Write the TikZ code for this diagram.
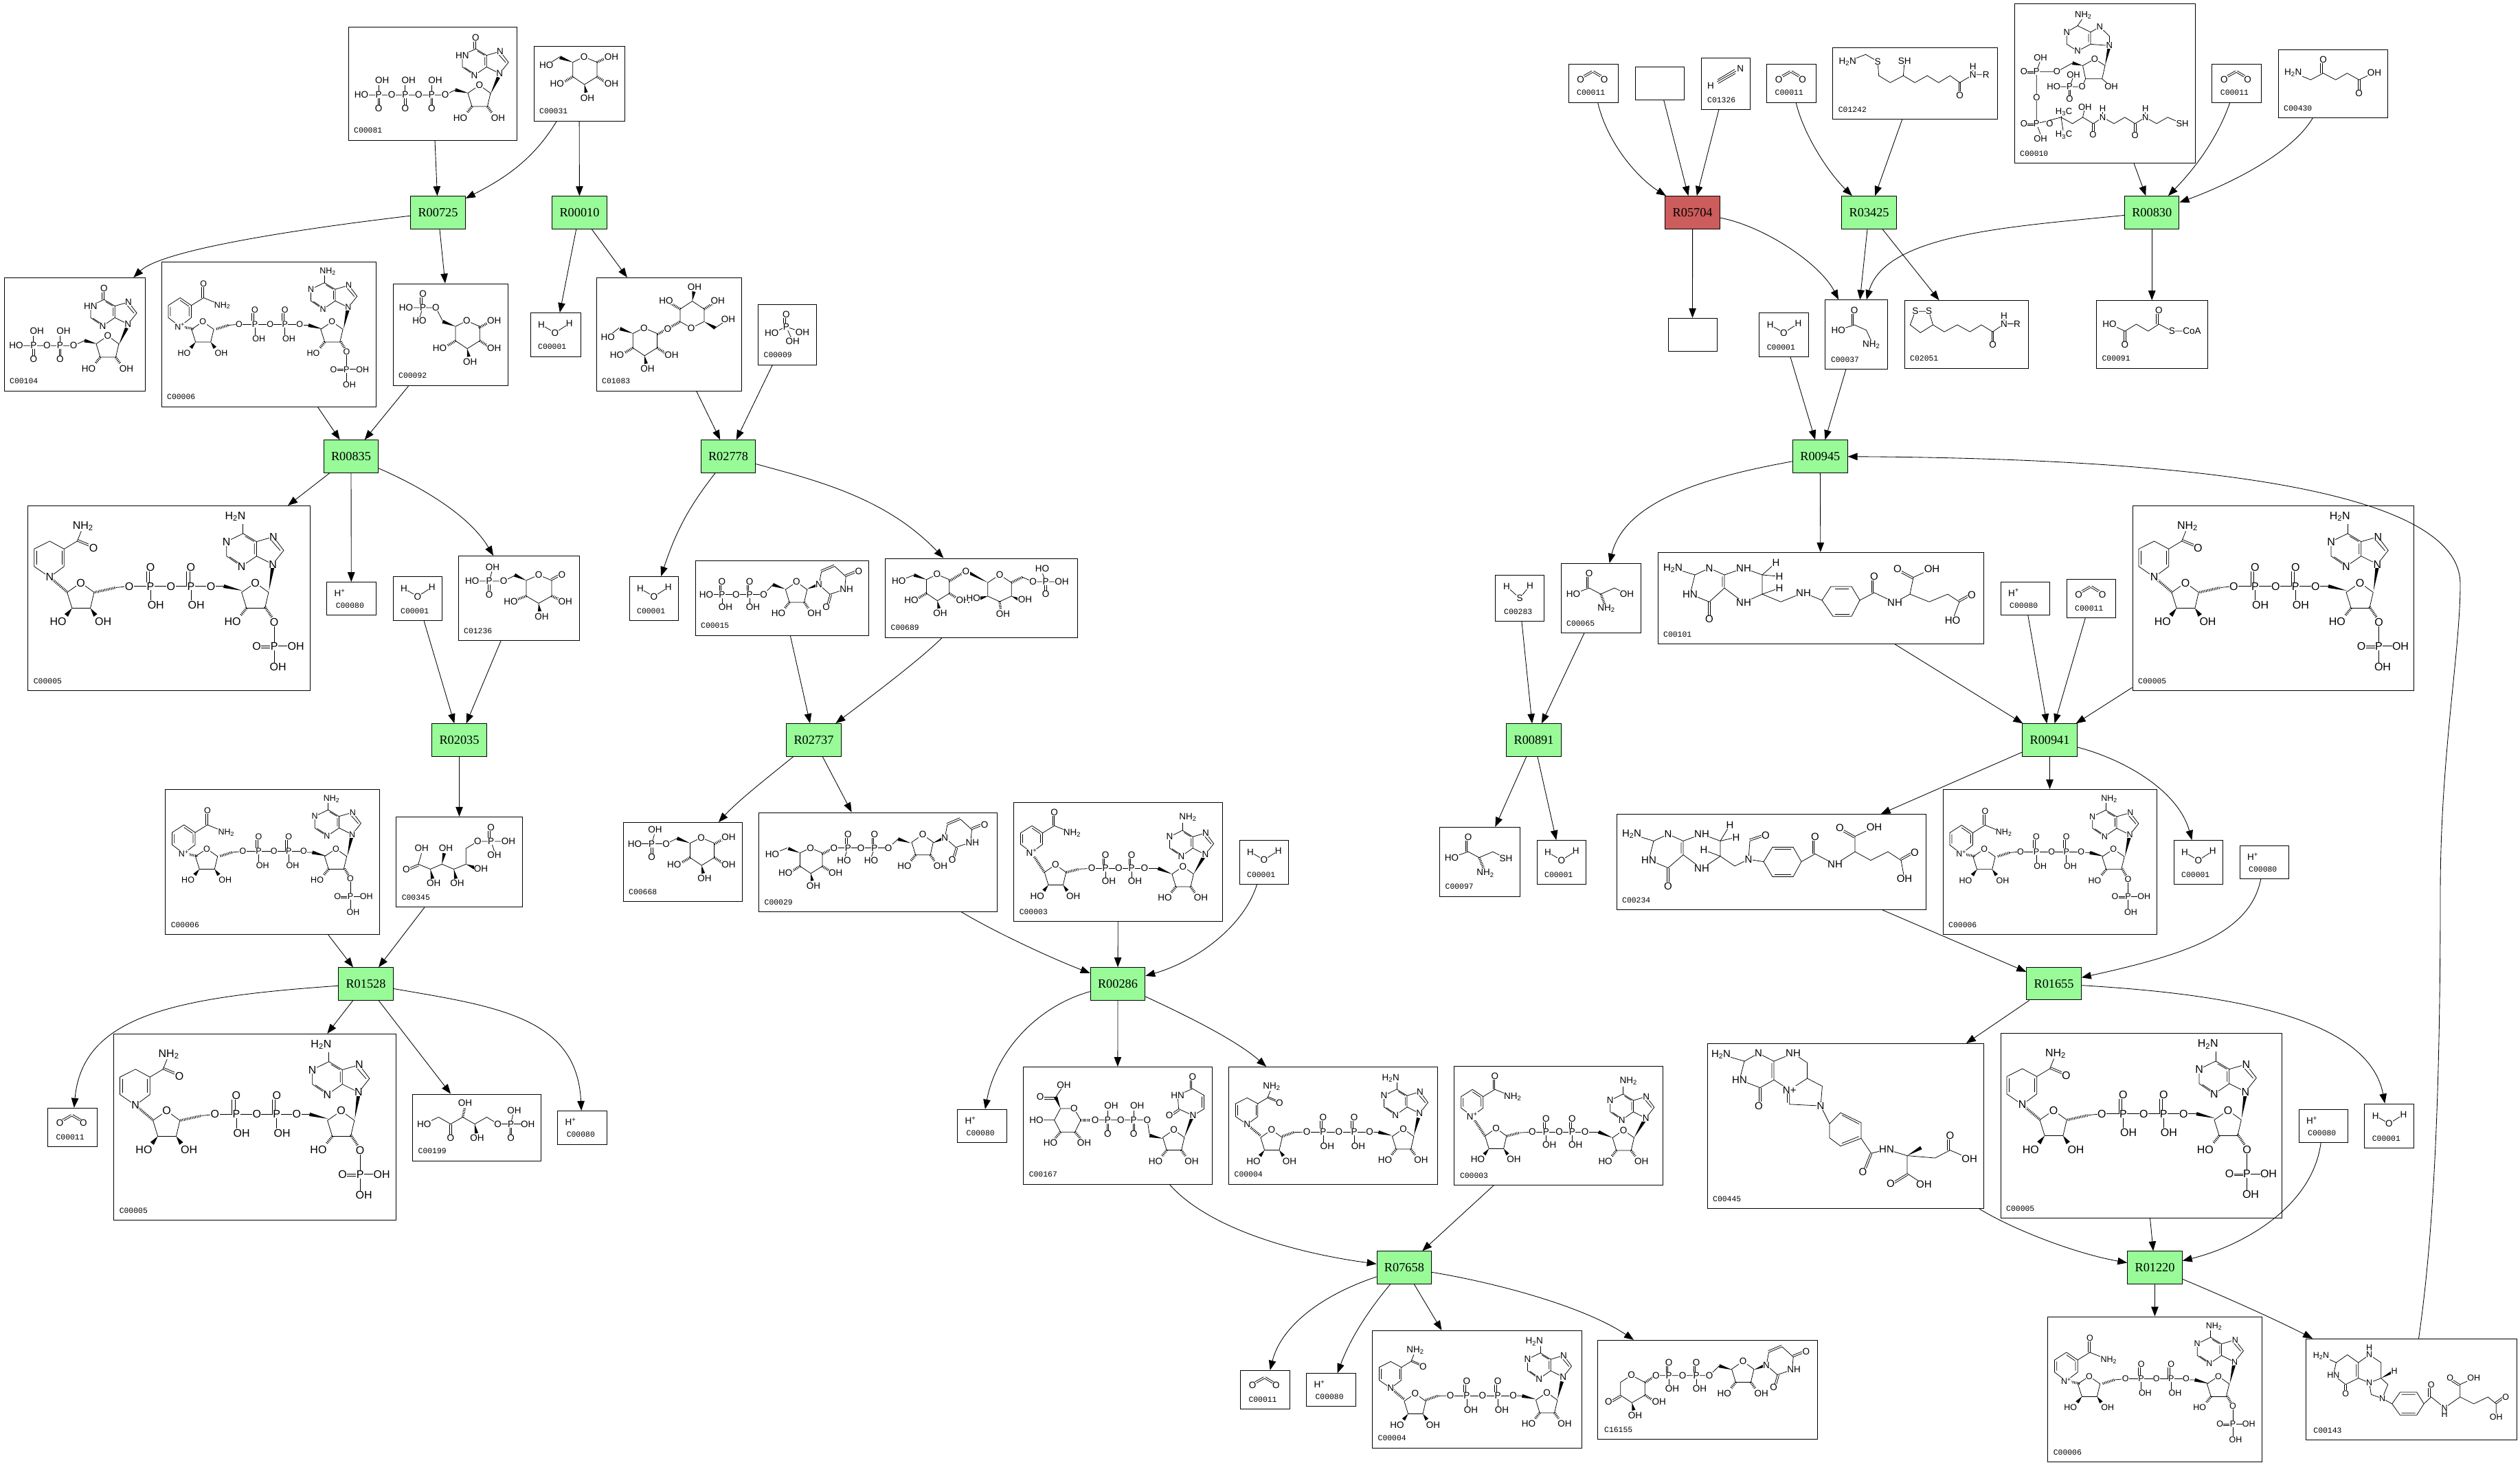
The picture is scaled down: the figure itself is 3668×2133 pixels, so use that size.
\documentclass[tikz,border=0pt]{standalone}
\usepackage{fontspec}
\setmainfont{Liberation Serif}
\newfontfamily\atomfont{Liberation Sans}
\newfontfamily\labelfont{Liberation Mono}
\usetikzlibrary{arrows.meta,calc}
\definecolor{rxngreen}{HTML}{98FB98}
\definecolor{rxnred}{HTML}{CD5C5C}
\def\asz{13.5}
\newcounter{atomno}
\tikzset{
  rxn/.style={draw,line width=1pt,fill=rxngreen,minimum width=79.5pt,minimum height=47.5pt,inner sep=0pt,font=\fontsize{18.3}{20}\selectfont},
  cpdbox/.style={draw,line width=1pt,inner sep=0pt},
  cpdlabel/.style={anchor=west,inner sep=0pt,font=\labelfont\fontsize{11.4}{12}\selectfont},
  conn/.style={line width=.85pt,-{Triangle[length=14pt,width=10.5pt]}},
  bond/.style={line width=.75pt},
  hash/.style={line width=3.6pt,dash pattern=on .9pt off 1.5pt},
  atom/.style={fill=white,inner sep=.4pt,font=\atomfont\fontsize{\asz}{\asz}\selectfont}
}
% atoms and bonds
\newcommand{\atm}[3]{\stepcounter{atomno}\node[atom] (a\theatomno) at (#1,#2) {#3};}
\newcommand{\atms}[1]{\foreach \atx/\aty/\att in {#1}{\atm{\atx}{\aty}{\att}}}
\newcommand{\wdg}[4]{\fill ($(#1,#2)$) -- ($(#3,#4)!2.6pt!90:(#1,#2)$) -- ($(#3,#4)!2.6pt!-90:(#1,#2)$) -- cycle;}
\newcommand{\hsh}[4]{\draw[hash] (#1,#2) -- (#3,#4);}
\newcommand{\dbl}[4]{\draw[bond] (#1,#2) -- (#3,#4); \draw[bond] ($(#1,#2)!2.6pt!90:(#3,#4)$) -- ($(#3,#4)!2.6pt!-90:(#1,#2)$);}
\newcommand{\frag}[5]{\begin{scope}[shift={(#1,#2)},xscale=#3,yscale=#4] #5 \end{scope}}
% a compound box with its label and its structure
\newcommand{\cpd}[8][8]{%
  \node[cpdbox,minimum width={(#5-#3)*1pt},minimum height={(#6-#4)*1pt}] (#2) at ({(#3+#5)/2},{(#4+#6)/2}) {};
  \node[cpdlabel] (#2t) at (#3+#1,#6-14) {#7};
  \begin{scope}[shift={(#3,#4)}] #8 \end{scope}}
% pieces of structures
\newcommand{\ribring}{\draw[bond] (0,0)--(15.4,11.1)--(11.1,29.6)--(-10.3,29.6)--(-16,11.1)--cycle; \atm{0}{0}{O}}
\newcommand{\ribup}{\ribring \wdg{-10.3}{29.6}{-17}{38} \wdg{11.1}{29.6}{17}{38} \atms{-26.5/45.5/HO,26/45.5/OH}}
\newcommand{\ribdn}{\ribring \hsh{-10.3}{29.6}{-17}{38} \hsh{11.1}{29.6}{17}{38} \atms{-26.5/45.5/HO,26/45.5/OH}}
\newcommand{\ribdnP}{\ribring \hsh{-10.3}{29.6}{-17}{38} \atm{-26.5}{45.5}{HO}}
\newcommand{\Pdn}[2]{\draw[bond] (#1,#2)--(#1,#2+14); \dbl{#1-1.3}{#2}{#1-1.3}{#2-19} \atm{#1}{#2}{P} \atm{#1}{#2-19}{O} \atm{#1+5}{#2+18.7}{OH}}
\newcommand{\Pup}[2]{\draw[bond] (#1,#2)--(#1,#2-14); \dbl{#1-1.3}{#2}{#1-1.3}{#2+20} \atm{#1}{#2}{P} \atm{#1}{#2+20}{O} \atm{#1+5}{#2-21}{OH}}
\newcommand{\ppchain}{\draw[bond] (0,0)--(76.8,0); \Pdn{20}{0} \Pdn{58}{0} \atms{0/0/O,39.3/0/O,76.8/0/O}}
\newcommand{\purine}[4]{\draw[bond] (0,0)--(-18.2,-9.3)--(-18.2,-25.9)--(-33.3,-35.2)--(-51.8,-25.9)--(-51.8,-9.3)--(-35,2.5)--(-18.2,-9.3);
  \draw[bond] (-18.2,-25.9)--(0.7,-31.5)--(12.2,-15.9)--(0,0);
  \draw[bond] (-33.3,-35.2)--(-33.3,-46);
  \draw[bond] (-20.6,-11.5)--(-20.6,-23.7) (-3,-29)--(8.5,-15.5) (-31,-32)--(-21,-26) (-48.5,-8.5)--(-36,0);
  \atms{0/0/N,0.7/-31.5/N,-35/2.5/N,-51.8/-25.9/#4,#1/#2/#3}}
\newcommand{\inosine}{\purine{-33.3}{-51.5}{O}{HN} \draw[bond] (-35.8,-35.2)--(-35.8,-45);}
\newcommand{\nicoox}{\draw[bond] (0,0)--(16,-12)--(16,-28.6)--(0.5,-39)--(-16,-28.6)--(-16,-12)--cycle;
  \draw[bond] (13,-14)--(13,-26.6) (-13,-14)--(-13,-26.6) (0.5,-35.5)--(12.5,-27.5);
  \draw[bond] (16,-28.6)--(33,-39)--(59,-28.6); \dbl{33}{-39}{33}{-58}
  \atms{0/0/N\textsuperscript{+},33/-58/O,59/-28.6/NH\textsubscript{2}}}
\newcommand{\nicoH}{\draw[bond] (0,0)--(21,-15.6)--(21,-41)--(0,-52.4)--(-22.6,-41)--(-22.6,-15.6)--cycle;
  \draw[bond] (17.6,-18)--(17.6,-38) (-19.2,-18)--(-19.2,-38);
  \draw[bond] (21,-41)--(40,-52.4)--(46,-67); \dbl{40}{-52.4}{63.8}{-42.3}
  \atms{0/0/N,48.4/-74.4/NH\textsubscript{2},63.8/-42.3/O}}
\newcommand{\ptail}{\draw[bond] (0,0)--(0,60); \draw[bond] (0,34.9)--(31.5,34.9); \dbl{0}{34.9}{-25.5}{34.9}
  \atms{0/0/O,0/34.9/P,-25.5/34.9/O,31.5/34.9/OH,5.5/65.3/OH}}
\newcommand{\uracil}{\draw[bond] (0,0)--(3.5,-18.5); \dbl{3.5}{-18.5}{23}{-26.7} \draw[bond] (23,-26.7)--(39.2,-11.9)--(37.5,6.7)--(16,14)--(0,0);
  \dbl{39.2}{-11.9}{57.8}{-19.3} \dbl{16}{14}{10.7}{32.5} \atms{0/0/N,40/6.7/NH,57.8/-19.3/O,10.7/32.5/O}}
\newcommand{\pyr}{\draw[bond] (0,0)--(19,8)--(19,29)--(0.7,40.4)--(-16.2,29)--(-16.2,8)--cycle;
  \hsh{19}{29}{30}{36} \hsh{-16.2}{29}{-28}{36} \wdg{0.7}{40.4}{3}{52} \wdg{-16.2}{8}{-35}{1}
  \atms{0/0/O,40/39.4/OH,-39.3/39.4/HO,5/59.7/OH}}
\newcommand{\sixP}{\draw[bond] (-35,1)--(-51,9)--(-92,9); \draw[bond] (-72,9)--(-68,-5); \dbl{-73.3}{9}{-73.3}{28.4}
  \atms{-51/9/O,-72/9/P,-67/-11.6/OH,-96.7/9/HO,-72/28.4/O}}
\newcommand{\water}{\draw[bond] (16,17.5)--(35.8,29)--(56.8,15.6); \atms{16/17.5/H,35.8/29/O,56.8/15.6/H}}
\newcommand{\proton}{\atm{19}{15.6}{H\textsuperscript{+}}}
\newcommand{\carbdi}{\dbl{17.7}{21.7}{35.3}{11.7} \dbl{35.3}{11.7}{52}{21.7} \atms{17.7/21.7/O,52/21.7/O}}
% the four cofactors
\newcommand{\molNADPH}{\def\asz{16}
  \hsh{31.6}{103.8}{57.5}{125.8} \hsh{97.5}{125.8}{128}{119} \draw[bond] (128,119)--(147.3,117);
  \draw[bond] (266.6,117)--(285,117); \wdg{312}{123.5}{285}{117} \wdg{350.8}{123.5}{356}{90} \hsh{345}{147}{355}{162}
  \frag{31.6}{103.8}{1}{1}{\nicoH} \frag{77}{112}{1.25}{1.25}{\ribup} \frag{147.3}{117}{1.55}{1.45}{\ppchain}
  \frag{331}{112}{1.25}{1.25}{\ribdnP} \frag{358.5}{169.4}{1}{1}{\ptail}
  \frag{356.4}{85}{1.3}{1.27}{\purine{-42}{-54.6}{H\textsubscript{2}N}{N}}}
\newcommand{\molNADP}{\def\asz{12.5}
  \hsh{26.7}{93.7}{47.7}{97.4} \hsh{80}{97.4}{97}{92} \draw[bond] (97,92)--(113,90.5);
  \draw[bond] (201.3,91.8)--(215,92); \wdg{234.3}{97.4}{214}{92} \wdg{265}{97.4}{271}{70} \hsh{261}{115.7}{267}{126}
  \frag{26.7}{93.7}{1.05}{1.07}{\nicoox} \frag{60.3}{86.8}{1.03}{1}{\ribup} \frag{113}{90.5}{1.15}{1.12}{\ppchain}
  \frag{248.3}{86.8}{1.03}{1}{\ribdnP} \frag{269.4}{130.4}{.74}{.74}{\ptail}
  \frag{272}{66}{1.05}{1.02}{\purine{-28.6}{-51}{NH\textsubscript{2}}{N}}}
\newcommand{\molNAD}{
  \hsh{26}{73}{44.6}{101.7} \hsh{76.8}{101.7}{95}{97} \draw[bond] (95,97)--(113.5,96);
  \draw[bond] (190.3,96)--(210,96); \wdg{230.3}{104.3}{210}{96} \wdg{261.7}{104.3}{276}{80}
  \frag{26}{73}{1}{1}{\nicoox} \frag{60.7}{90.6}{1}{1}{\ribup} \frag{113.5}{96}{1}{1}{\ppchain}
  \frag{246.3}{93.2}{1}{1}{\ribdn} \frag{278.8}{75.9}{1}{1}{\purine{-25.3}{-54.4}{NH\textsubscript{2}}{N}}}
\newcommand{\molNADH}{
  \hsh{26.7}{83.7}{46.3}{100} \hsh{77.9}{101}{95}{95} \draw[bond] (95,95)--(113.6,94.7);
  \draw[bond] (204.8,94.7)--(220,95); \wdg{237.8}{99.8}{218}{95} \wdg{269.4}{99.8}{276}{74}
  \frag{26.7}{83.7}{.74}{.74}{\nicoH} \frag{62.4}{91.5}{1}{1}{\ribup} \frag{113.6}{94.7}{1.19}{1.12}{\ppchain}
  \frag{254}{90}{1}{1}{\ribdn} \frag{277.8}{67.6}{1}{1}{\purine{-42}{-51.6}{H\textsubscript{2}N}{N}}}
\begin{document}
\begin{tikzpicture}[x=1pt,y=-1pt]
\useasboundingbox (0,0) rectangle (3668,2133);
% reactions
\node[rxn] (R00725) at (637.5,309.5) {R00725};
\node[rxn] (R00010) at (843.5,309.5) {R00010};
\node[rxn] (R00835) at (511,664.5) {R00835};
\node[rxn] (R02778) at (1060,664.5) {R02778};
\node[rxn] (R02035) at (668.5,1077.5) {R02035};
\node[rxn] (R02737) at (1184.5,1077.3) {R02737};
\node[rxn] (R01528) at (532.5,1432.5) {R01528};
\node[rxn] (R00286) at (1627,1432.4) {R00286};
\node[rxn] (R07658) at (2043.9,1845.6) {R07658};
\node[rxn,fill=rxnred] (R05704) at (2463.6,309.3) {R05704};
\node[rxn] (R03425) at (2720.6,309.3) {R03425};
\node[rxn] (R00830) at (3132.2,309.3) {R00830};
\node[rxn] (R00945) at (2649.3,664.5) {R00945};
\node[rxn] (R00891) at (2232.5,1077.6) {R00891};
\node[rxn] (R00941) at (2983.5,1077.6) {R00941};
\node[rxn] (R01655) at (2989.5,1432.2) {R01655};
\node[rxn] (R01220) at (3136.5,1845.6) {R01220};
% small compounds
\cpd[11]{C00001a}{772}{455.5}{845}{519}{C00001}{\water}
\cpd[11]{C00001b}{916}{839.5}{987}{903.5}{C00001}{\water}
\cpd[11]{C00001c}{572}{839.4}{643}{903.7}{C00001}{\water}
\cpd[11]{C00001d}{1804}{1223}{1875.5}{1287.5}{C00001}{\water}
\cpd[11]{C00001e}{3441.6}{1607}{3513.6}{1671.4}{C00001}{\water}
\cpd[11]{C00001f}{2560.6}{455.5}{2632}{519.4}{C00001}{\water}
\cpd[11]{C00001g}{2237}{1223.5}{2308}{1287.4}{C00001}{\water}
\cpd[11]{C00001h}{3164}{1223.5}{3235}{1287.4}{C00001}{\water}
\cpd[13]{C00080a}{475.6}{847.7}{547}{895.4}{C00080}{\proton}
\cpd[13]{C00080b}{811.6}{1617.5}{883}{1666}{C00080}{\proton}
\cpd[13]{C00080c}{1393.5}{1615.3}{1465}{1663.6}{C00080}{\proton}
\cpd[13]{C00080d}{1901.4}{1999.8}{1973.7}{2047.5}{C00080}{\proton}
\cpd[13]{C00080e}{3346}{1615.5}{3417}{1663.7}{C00080}{\proton}
\cpd[13]{C00080f}{2912}{847.2}{2983}{895.4}{C00080}{\proton}
\cpd[13]{C00080g}{3260}{1231.6}{3331}{1279.3}{C00080}{\proton}
\cpd[12]{C00011a}{69.4}{1613.3}{141}{1669.8}{C00011}{\carbdi}
\cpd[12]{C00011b}{1805.3}{1995.3}{1877.6}{2051.4}{C00011}{\carbdi}
\cpd[12]{C00011c}{2283}{93.7}{2355}{149.2}{C00011}{\carbdi}
\cpd[12]{C00011d}{2571.5}{93.7}{2643.5}{149.2}{C00011}{\carbdi}
\cpd[12]{C00011e}{3219.7}{93.7}{3291}{149.2}{C00011}{\carbdi}
\cpd[12]{C00011f}{3008}{843.7}{3079}{899.5}{C00011}{\carbdi}
\cpd[9]{C01326}{2476}{84.5}{2547}{159.3}{C01326}{
  \draw[bond] (23,34.7)--(51,19) (25,37)--(50,22.5) (24,31.5)--(49,16.5); \atms{14/40.7/H,57.3/15.7/N}}
\cpd[13]{C00283}{2176}{837.4}{2247}{904.4}{C00283}{
  \draw[bond] (17,16.5)--(36,33.5)--(51,15.2); \atms{17/16.5/H,36/33.5/S,51/15.2/H}}
\cpd{C00009}{1103.5}{443}{1188}{531}{C00009}{
  \draw[bond] (19.8,42.3)--(40.8,32.8)--(64.4,40.7) (40.8,32.8)--(50.2,53.4); \dbl{39.5}{32.8}{39.5}{14.6}
  \atms{40.8/14.6/O,40.8/32.8/P,19.8/42.3/HO,64.4/40.7/OH,50.2/53.4/OH}}
\node[cpdbox,minimum width=71pt,minimum height=48.2pt] (Cnone1) at (2415.5,121.5) {};
\node[cpdbox,minimum width=71pt,minimum height=48.2pt] (Cnone2) at (2463.5,487.4) {};
% cofactors
\cpd{C00006a}{235}{381.6}{547}{592}{C00006}{\molNADP}
\cpd{C00006b}{240.6}{1149}{552}{1360.6}{C00006}{\molNADP}
\cpd{C00006c}{2980.6}{1917}{3292}{2128.4}{C00006}{\molNADP}
\cpd{C00006d}{2828}{1149.4}{3139}{1360.6}{C00006}{\molNADP}
\cpd{C00005a}{40.7}{736.5}{451}{1005.6}{C00005}{\molNADPH}
\cpd{C00005b}{165.6}{1505.4}{576}{1776.8}{C00005}{\molNADPH}
\cpd{C00005c}{2912}{1504.6}{3321}{1773.3}{C00005}{\molNADPH}
\cpd{C00005d}{3104}{736.5}{3513}{1005.3}{C00005}{\molNADPH}
\cpd{C00003a}{1475.6}{1168.3}{1779.4}{1341.6}{C00003}{\molNAD}
\cpd{C00003b}{2116.8}{1552.2}{2420.3}{1725.3}{C00003}{\molNAD}
\cpd{C00004a}{1788.5}{1553.5}{2092}{1724}{C00004}{\molNADH}
\cpd{C00004b}{1997.5}{1937.4}{2302}{2108}{C00004}{\molNADH}
% nucleotides and sugars
\cpd{C00081}{507}{39.5}{752}{204}{C00081}{
  \draw[bond] (28,98.7)--(141,98.7)--(155.7,91.4); \wdg{174.7}{96}{155.7}{91.4} \wdg{207}{97.4}{218.5}{73}
  \Pup{44.2}{98.7} \Pup{82.8}{98.7} \Pup{121.4}{98.7}
  \atms{19/98.7/HO,63/98.7/O,102.4/98.7/O,141/98.7/O}
  \frag{190.8}{84.5}{1.05}{1.05}{\ribdn} \frag{220.3}{67.5}{1.05}{1.02}{\inosine}}
\cpd{C00104}{6}{404.5}{211}{569}{C00104}{
  \draw[bond] (28,98.7)--(101,98.7)--(117,91.4); \wdg{134.7}{96}{117}{91.4} \wdg{167}{97.4}{178.5}{73}
  \Pup{42.8}{98.7} \Pup{81.4}{98.7}
  \atms{17.5/98.7/HO,62.4/98.7/O,101/98.7/O}
  \frag{150.8}{84.5}{1.05}{1.05}{\ribdn} \frag{180.3}{67.5}{1.05}{1.02}{\inosine}}
\cpd{C00031}{777}{67.5}{909}{176}{C00031}{
  \draw[bond] (38,15.2)--(18.2,27.6); \hsh{92}{23}{105}{17}
  \frag{73}{15.2}{1}{1}{\pyr} \atms{18.2/27.6/HO,113/15.2/OH}}
\cpd{C00092}{572}{413}{739}{561}{C00092}{
  \draw[bond] (72.3,54.2)--(62.4,35)--(25,35) (43.5,35)--(38.6,50); \dbl{42.2}{35}{42.2}{15} \hsh{125}{64.3}{138}{57}
  \frag{107.3}{54.2}{1}{1}{\pyr} \atms{62.4/35/O,43.5/35/P,43.5/15/O,19/35/HO,38.6/54.2/HO,147.3/54.2/OH}}
\cpd{C01083}{868}{404.5}{1079}{569}{C01083}{
  \draw[bond] (33,73)--(16.8,85.9); \hsh{89}{82.2}{103.8}{74} \hsh{103.8}{74}{122}{63.8}
  \frag{69.4}{73}{1}{1}{\pyr}
  \draw[bond] (122,63.8)--(138.2,73)--(157,63.8)--(157,45.5)--(139.6,34)--(122,45.5)--cycle (173,73)--(192,60);
  \wdg{157}{63.8}{173}{73} \wdg{139.6}{34}{142}{20} \hsh{122}{45.5}{108}{37} \hsh{157}{45.5}{170}{37}
  \atms{16.8/85.9/HO,103.8/74/O,138.2/73/O,143/13.3/OH,101.6/33/HO,176.8/33/OH,192/60/OH}}
\cpd{C01236}{667}{809.5}{843}{932.6}{C01236}{
  \frag{117}{27.6}{1}{1}{\draw[bond] (0,0)--(19,8)--(19,30.7)--(0,41.3)--(-18,30.7)--(-18,8)--cycle;
    \dbl{19}{8}{33.8}{0} \hsh{19}{30.7}{31}{36} \hsh{-18}{30.7}{-32}{36} \wdg{0}{41.3}{1.5}{53} \wdg{-18}{8}{-35}{0}
    \atms{0/0/O,33.8/0/O,38.7/39/OH,-40.5/39/HO,4.4/61/OH} \sixP}}
\cpd{C00668}{907}{1197.6}{1080}{1312.4}{C00668}{
  \hsh{132.6}{31.2}{146}{24} \frag{113.6}{22}{1}{1}{\pyr \sixP} \atm{153.6}{21.6}{OH}}
\cpd{C00345}{576.6}{1189.3}{760.4}{1320.6}{C00345}{
  \dbl{32.3}{68.9}{14.7}{76.2} \draw[bond] (37,53)--(32.3,68.9)--(49.8,76.2)--(66.6,68.9)--(84,76.2)--(101.7,68.9)--(101.7,46)--(118.7,35.8)--(155,35.8) (138,35.8)--(143,50);
  \dbl{136.7}{35.8}{136.7}{16} \wdg{49.8}{76.2}{53}{90} \wdg{66.6}{68.9}{70}{53} \wdg{84}{76.2}{87}{90} \wdg{101.7}{68.9}{114}{74}
  \atms{14.7/76.2/O,37.2/46/OH,54.7/96.4/OH,72.3/46/OH,89/96.4/OH,123.5/75.8/OH,118.7/35.8/O,138/35.8/P,138/16/O,163.4/35.8/OH,143/55.6/OH}}
\cpd{C00199}{600.5}{1593}{787}{1690}{C00199}{
  \draw[bond] (16.8,43.6)--(37.9,33.5)--(55.4,43.6)--(73,33.5)--(90.5,43.6)--(108,33.5)--(124.2,43.6)--(160,43.6) (143,43.6)--(146,30);
  \dbl{54}{43.6}{54}{63.8} \dbl{141.7}{43.6}{141.7}{63.8} \hsh{73}{33.5}{76}{20} \wdg{90.5}{43.6}{93}{57}
  \atms{16.8/43.6/HO,55.4/63.8/O,76.5/13.3/OH,94/63.8/OH,124.2/43.6/O,143/43.6/P,148/23.4/OH,167.7/43.6/OH,143/63.8/O}}
\cpd{C00015}{1012}{816.5}{1264}{925}{C00015}{
  \draw[bond] (25,49)--(99.5,49)--(113,34.8); \wdg{130.8}{41}{113}{34.8} \wdg{162.7}{41}{179}{35}
  \Pdn{38.9}{49} \Pdn{79}{49} \atms{16/49/HO,59.3/49/O,99.5/49/O}
  \frag{147.4}{30.8}{1}{1}{\ribdn} \frag{180}{34.8}{1}{1}{\uracil}}
\cpd{C00689}{1288.5}{813}{1568.6}{928}{C00689}{
  \draw[bond] (44,23.3)--(19.8,33.2); \hsh{93}{33.2}{117.4}{18.6} \wdg{149.3}{35.2}{117.4}{18.6}
  \frag{75.3}{23.3}{.95}{.95}{\pyr} \atms{19.8/33.2/HO,117.4/18.6/O}
  \draw[bond] (149.3,35.2)--(166.5,24)--(183.7,35.2)--(183.7,55)--(166.5,62.9)--(149.3,55)--cycle (199.7,27.3)--(215,34)--(250,34) (233.5,34)--(229,22);
  \dbl{232.2}{34}{232.2}{52.2} \hsh{183.7}{35.2}{199.7}{27.3} \wdg{149.3}{55}{138}{58} \wdg{183.7}{55}{195}{60} \hsh{166.5}{62.9}{168}{74}
  \atms{166.5/24/O,128.2/58/HO,203.5/60/OH,171.5/80.7/OH,215/34/O,233.5/34/P,228.4/14.6/HO,257/34/OH,233.5/52.2/O}}
\cpd{C00029}{1104.5}{1183}{1451}{1327.4}{C00029}{
  \draw[bond] (41.4,51.5)--(19.6,60.5) (109.4,51.5)--(188.7,51.5)--(202.7,38.6); \hsh{92}{60.5}{109.4}{51.5}
  \wdg{221}{44.4}{202.7}{38.6} \wdg{253.2}{44.4}{270}{37}
  \frag{75}{51.5}{.92}{.92}{\pyr} \atms{19.6/60.5/HO,109.4/51.5/O,148.7/51.5/O,188.7/51.5/O}
  \draw[bond] (129.8,51.5)--(125.5,64) (168.4,51.5)--(164,64); \dbl{128.5}{51.5}{128.5}{31.6} \dbl{167}{51.5}{167}{31.6}
  \atms{129.8/51.5/P,129.8/31.6/O,124/70/HO,168.4/51.5/P,168.4/31.6/O,163.4/70/HO}
  \frag{238.5}{32.2}{1}{1}{\ribdn} \frag{270.8}{36.7}{1}{1}{\uracil}}
\cpd{C00167}{1489.6}{1553.5}{1764}{1724}{C00167}{
  \dbl{47}{43.8}{24.6}{43.8} \draw[bond] (59,26.4)--(47,43.8) (73.7,60.5)--(83.5,77.3)--(75,94.7)--(54,94.7)--(45,77.3)--(54,60.5)--cycle (45,77.3)--(19,77.3) (104.5,77.3)--(180.3,77.3)--(183.8,99.8);
  \wdg{54}{60.5}{47}{43.8} \hsh{83.5}{77.3}{104.5}{77.3} \wdg{203.4}{104.3}{183.8}{99.8} \wdg{234.3}{102.4}{246}{72} \hsh{54}{94.7}{46}{104} \hsh{75}{94.7}{83}{104}
  \Pup{122.8}{77.3} \Pup{160.6}{77.3}
  \atms{24.6/43.8/O,59/26.4/OH,73.7/60.5/O,19/77.3/HO,39.3/110.8/HO,88.4/110.8/OH,104.5/77.3/O,141.7/77.3/O,180.3/77.3/O}
  \frag{218.9}{91.5}{1}{1}{\ribdn}
  \draw[bond] (247,70.8)--(263,61)--(263,41.2)--(246.2,31.6)--(224.5,41.2)--(226,61)--cycle (260,59)--(260,43); \dbl{245}{31.6}{245}{14.2} \dbl{226}{61}{212.6}{70.2}
  \atms{247/70.8/N,246.2/14.2/O,224.5/41.2/HN,212.6/70.2/O}}
\cpd[10]{C16155}{2325}{1951.3}{2645.7}{2095.4}{C16155}{
  \draw[bond] (49.6,51)--(69.3,61.4)--(69.3,80)--(50.3,91)--(33.6,80)--(33.6,61.4)--cycle (85.3,51.4)--(163,51.4)--(177.4,37.4);
  \dbl{33.6}{80}{16.4}{90} \hsh{69.3}{61.4}{85.3}{51.4} \hsh{69.3}{80}{80}{87} \wdg{50.3}{91}{53}{102} \wdg{196}{43}{177.4}{37.4} \wdg{228}{43}{245}{36.3}
  \Pdn{104}{51.4} \Pdn{144}{51.4}
  \atms{49.6/51/O,16.4/90/O,89.6/90/OH,55/109.5/OH,85.3/51.4/O,124/51.4/O,163/51.4/O}
  \frag{212}{30.7}{1.03}{1.03}{\ribdn} \frag{246}{36.3}{1}{1}{\uracil}}
% acids
\cpd{C01242}{2667.6}{69.3}{2907}{173.6}{C01242}{
  \draw[bond] (21.6,20.2)--(48,10)--(65.5,20.2)--(67,40.9)--(83.7,51)--(102.8,40.9)--(119.4,51)--(137.6,40.9)--(154,51)--(170.8,40.9)--(184.9,51)--(204,39.5)--(223,39.5) (102.8,40.9)--(104.5,19.3) (204,39.5)--(204,27.6);
  \dbl{183.6}{51}{183.6}{69.3}
  \atms{21.6/20.2/H\textsubscript{2}N,65.5/20.2/S,104.5/19.3/SH,184.9/69.3/O,204/39.5/N,204/27.6/H,223/39.5/R}}
\cpd{C02051}{2772}{437.6}{2952}{536}{C02051}{
  \draw[bond] (15.8,15.6)--(35.6,15.6)--(41.5,35.4)--(23.2,46.8)--(8.3,35.4)--(15.8,15.6) (41.5,35.4)--(58,45.5)--(77,35.4)--(95.3,45.5)--(112,35.4)--(128.5,45.5)--(145,34)--(164,34) (145,34)--(145,22);
  \dbl{127.2}{45.5}{127.2}{64.3}
  \atms{15.8/15.6/S,35.6/15.6/S,128.5/64.3/O,145/34/N,145/22/H,164/34/R}}
\cpd{C00091}{3051.4}{437.6}{3213}{536}{C00091}{
  \draw[bond] (19,34)--(41.5,44.5)--(58,34.4)--(75.4,44.5)--(91,34.4)--(110,44.5)--(139,44.5);
  \dbl{40.2}{44.5}{40.2}{64.3} \dbl{89.7}{34.4}{89.7}{14.7}
  \atms{19/34/HO,41.5/64.3/O,91/14.7/O,110/44.5/S,139/44.5/CoA}}
\cpd{C00037}{2656.8}{436.7}{2747}{537.3}{C00037}{
  \draw[bond] (19,44)--(42.3,36.3)--(59.7,44)--(67,60); \dbl{41}{36.3}{41}{14.7}
  \atms{42.3/14.7/O,19/44/HO,67/65/NH\textsubscript{2}}}
\cpd{C00430}{3316}{72.6}{3475}{171.3}{C00430}{
  \draw[bond] (21.6,33)--(47.3,43.6)--(65.5,34)--(83.7,43.6)--(100.3,34)--(117.7,43.6)--(140,33);
  \dbl{64.2}{34}{64.2}{14.7} \dbl{116.4}{43.6}{116.4}{63.4}
  \atms{21.6/33/H\textsubscript{2}N,65.5/14.7/O,140/33/OH,117.7/63.4/O}}
\cpd{C00065}{2272}{820.4}{2388}{921.3}{C00065}{
  \draw[bond] (18,44.6)--(41,35.7)--(58,44.6)--(78,35.7)--(96,44.6); \dbl{39.7}{35.7}{39.7}{14.7} \hsh{58}{44.6}{64}{60}
  \atms{41/14.7/O,18/44.6/HO,96/44.6/OH,66/65.6/NH\textsubscript{2}}}
\cpd{C00097}{2095.5}{1204.4}{2212}{1305.2}{C00097}{
  \draw[bond] (17.5,44.2)--(41.5,35.7)--(57.5,44.2)--(77.5,35.7)--(96.5,45.5); \dbl{40.2}{35.7}{40.2}{14.7} \hsh{57.5}{44.2}{64}{60}
  \atms{41.5/14.7/O,17.5/44.2/HO,96.5/45.5/SH,66.5/67/NH\textsubscript{2}}}
\cpd{C00010}{2932}{5.5}{3195}{237.4}{C00010}{\def\asz{13}
  \draw[bond] (100.3,20)--(92,32)--(76.3,41.3)--(76.3,58.8)--(92,69)--(111,58.8)--(111,41.3)--(92,32) (111,41.3)--(124.4,33.5)--(138.4,47.3)--(138.4,61)--(111,58.8) (108,44)--(108,56);
  \wdg{132}{90}{138.4}{61}
  \draw[bond] (117,80.4)--(132,90)--(127.7,109.3)--(103.6,109.3)--(99.5,90)--cycle (84.6,86.3)--(62,98.7)--(32.3,98.7)--(38,82) (32.3,98.7)--(32.3,174.5)--(38,190) (32.3,174.5)--(68,165.3)--(84.6,174.5)--(99.5,165.3)--(115,174.5)--(128.5,165.3)--(145,174.5)--(160.8,165.3)--(175.7,174.5)--(190.7,165.3)--(207,174.5)--(223,165.3)--(244.5,174.5) (68,165.3)--(72,157.5) (68,165.3)--(72,191) (99.5,165.3)--(102.8,150.6) (128.5,165.3)--(128.5,153) (190.7,165.3)--(190.7,153) (103.6,109.3)--(98.7,120.8)--(60,120.8) (80.4,120.8)--(86,106) (127.7,109.3)--(141,120.8);
  \wdg{99.5}{90}{84.6}{86.3}
  \dbl{32.3}{98.7}{14}{98.7} \dbl{32.3}{174.5}{14}{174.5} \dbl{79.1}{120.8}{79.1}{138.2} \dbl{113.7}{174.5}{113.7}{191} \dbl{174.4}{174.5}{174.4}{192}
  \atms{100.3/16.5/NH\textsubscript{2},76.3/41.3/N,92/69/N,124.4/33.5/N,138.4/61/N,117/80.4/O,62/98.7/O,32.3/98.7/P,38/79/OH,14/98.7/O,32.3/136.8/O,32.3/174.5/P,14/174.5/O,38/196.5/OH,51.4/174.5/O,72/157.5/H\textsubscript{3}C,72/191/H\textsubscript{3}C,102.8/150.6/OH,114.4/191/O,128.5/165.3/N,128.5/153/H,175.7/192/O,190.7/165.3/N,190.7/153/H,244.5/174.5/SH,98.7/120.8/O,80.4/120.8/P,57.2/120.8/HO,86/103.3/OH,80.4/138.2/O,141/120.8/OH}}
% folates
\cpd{C00101}{2413}{804.4}{2887}{937.4}{C00101}{\def\asz{15}
  \draw[bond] (22,22.8)--(54,32.6)--(75,22.8)--(97,32.6)--(97,51.8)--(75,71.9)--(47,60.7)--(54,32.6) (97,32.6)--(125,22.8)--(152,32.6)--(152,60.7)--(125,72.8)--(97,51.8) (152,32.6)--(172,14.7) (152,32.6)--(177,34.8) (152,60.7)--(177,51.8) (152,60.7)--(179,71.9)--(212,58.5)--(239,69.6)--(252,49.5)--(282,49.5)--(294,69.6)--(282,92.9)--(255,92.9)--(239,69.6) (294,69.6)--(315,58.5)--(345,72.8)--(367,60.7)--(372,36.2)--(399,23.7) (367,60.7)--(395,71.9)--(422,60.7)--(439,71.9)--(429,98.7) (94,35)--(94,50) (258,53)--(278,53) (258,90)--(279,90);
  \dbl{73.7}{71.9}{73.7}{97.3} \dbl{313.7}{58.5}{313.7}{35.3} \dbl{372}{36.2}{349}{23.7} \dbl{439}{71.9}{457}{62}
  \atms{22/22.8/H\textsubscript{2}N,75/22.8/N,47/60.7/HN,75/97.3/O,125/22.8/NH,125/72.8/NH,172/14.7/H,177/34.8/H,177/51.8/H,212/58.5/NH,315/35.3/O,345/72.8/NH,349/23.7/O,399/23.7/OH,457/62/O,429/98.7/HO}}
\cpd{C00234}{2353}{1185.6}{2803}{1324.4}{C00234}{\def\asz{15}
  \draw[bond] (22,29)--(54,38.8)--(75,29)--(97,38.8)--(97,59)--(75,78)--(47,66.5)--(54,38.8) (97,38.8)--(124,29)--(151,38.8)--(151,61)--(124,79)--(97,59) (151,38.8)--(165,15.6) (151,38.8)--(174,33.5) (151,61)--(127,52) (151,61)--(172,75.4)--(192,65.6)--(194,38.8) (192,65.6)--(214,69)--(227,47.8)--(257,47.8)--(269,69)--(257,91)--(227,91)--(214,69) (269,69)--(289,57.6)--(318,73)--(347,54.5)--(347,32)--(375,18.7) (347,54.5)--(370,67)--(395,54.5)--(414,67)--(419,93.7) (94,41)--(94,57) (230,51)--(254,51) (230,88)--(254,88);
  \dbl{73.7}{78}{73.7}{104.5} \dbl{194}{38.8}{217}{31} \dbl{287.7}{57.6}{287.7}{33} \dbl{347}{32}{325}{19.6} \dbl{414}{67}{434}{55.8}
  \atms{22/29/H\textsubscript{2}N,75/29/N,47/66.5/HN,75/104.5/O,124/29/NH,124/79/NH,165/15.6/H,174/33.5/H,127/52/H,192/65.6/N,217/31/O,289/33/O,318/73/NH,325/19.6/O,375/18.7/OH,434/55.8/O,419/93.7/OH}}
\cpd{C00445}{2485}{1519.6}{2887}{1759.7}{C00445}{\def\asz{15}
  \draw[bond] (20,15.5)--(54,25.5)--(74.4,14)--(97,25.5)--(97,52.7)--(76.8,64)--(47,52.7)--(54,25.5) (97,25.5)--(125,14)--(145.5,27.7)--(145.5,50.5)--(167.4,61.8)--(165,90.5)--(119.7,88.2)--(119.7,67.3)--(97,52.7) (145.5,50.5)--(119.7,67.3) (165,90.5)--(178,116.4)--(194,100.5)--(224,115)--(224,137.8)--(194,149)--(178,137)--(178,116.4) (224,137.8)--(238.6,159.6)--(261,154)--(291,163)--(331.6,166.4)--(353.4,155)--(381.7,167.3) (291,163)--(291,189)--(315.4,205) (94,28)--(94,50) (196,104)--(221,117) (196,145)--(221,135) (116.5,70)--(116.5,86);
  \wdg{291}{163}{311.3}{151.4}
  \dbl{75.5}{64}{75.5}{90.5} \dbl{237.3}{159.6}{226.4}{187} \dbl{352.1}{155}{352.1}{133.7} \dbl{291}{189}{267}{203.7}
  \atms{20/15.5/H\textsubscript{2}N,74.4/14/N,47/52.7/HN,75/90.5/O,125/14/NH,165/90.5/N,119.7/67.3/N+,226.4/187/O,261/154/HN,353.4/133.7/O,381.7/167.3/OH,267/203.7/O,315.4/205/OH}}
\cpd[10.5]{C00143}{3356.7}{1949.3}{3663}{2096.6}{C00143}{\def\asz{12.5}
  \draw[bond] (21.8,24.6)--(43.7,34.6)--(60,23.2)--(76,34.6)--(76,57.3)--(57.4,66.4)--(39.6,52.7)--(43.7,34.6) (76,34.6)--(92,23.2)--(109,34.6)--(109,57.3)--(92,64)--(76,57.3) (92,64)--(94.6,81)--(110.8,86.8)--(119,66.4)--(109,57.3) (110.8,86.8)--(125,94.6)--(136.7,77.8)--(161,77.8)--(171.4,94.6)--(161,111)--(136.7,111)--(125,94.6) (171.4,94.6)--(182,84.6)--(201.4,100.5)--(224,84.6)--(224,66.4)--(244,57.3) (224,84.6)--(244,94.6)--(264.6,84.6)--(276.6,94.6)--(276.6,114) (73,37)--(73,55) (139,81)--(159,81) (139,108)--(159,108);
  \wdg{109}{57.3}{128.4}{46.8}
  \dbl{56.1}{66.4}{56.1}{80} \dbl{180.7}{84.6}{180.7}{66.4} \dbl{224}{66.4}{209.4}{57.3} \dbl{276.6}{94.6}{290.4}{84.6}
  \atms{21.8/24.6/H\textsubscript{2}N,39.6/52.7/HN,57.4/80/O,92/23.2/N,92/12.7/H,128.4/46.8/H,92/64/N,110.8/86.8/N,182/66.4/O,201.4/100.5/N,201.4/110/H,209.4/57.3/O,244/57.3/OH,290.4/84.6/O,276.6/114/OH}}
% left pathway
\draw[conn] (C00081) -- (R00725);
\draw[conn] (C00031) .. controls (775,235) and (730,262) .. (R00725);
\draw[conn] (C00031) -- (R00010);
\draw[conn] (R00725) .. controls (480,328) and (240,360) .. (C00104);
\draw[conn] (R00725) -- (C00092);
\draw[conn] (R00010) -- (C00001a);
\draw[conn] (R00010) -- (C01083);
\draw[conn] (C00006a) -- (R00835);
\draw[conn] (C00092) -- (R00835);
\draw[conn] (C01083) -- (R02778);
\draw[conn] (C00009) -- (R02778);
\draw[conn] (R00835) -- (C00005a);
\draw[conn] (R00835) -- (C00080a);
\draw[conn] (R00835) .. controls (600,703) and (680,745) .. (C01236);
\draw[conn] (C00001c) -- (R02035);
\draw[conn] (C01236) -- (R02035);
\draw[conn] (R02035) -- (C00345);
\draw[conn] (C00006b) -- (R01528);
\draw[conn] (C00345) -- (R01528);
\draw[conn] (R01528) .. controls (250,1452) and (120,1480) .. (C00011a);
\draw[conn] (R01528) -- (C00005b);
\draw[conn] (R01528) -- (C00199);
\draw[conn] (R01528) .. controls (720,1465) and (840,1480) .. (C00080b);
% middle pathway
\draw[conn] (R02778) .. controls (1005,735) and (985,770) .. (C00001b);
\draw[conn] (R02778) .. controls (1190,700) and (1290,725) .. (C00689);
\draw[conn] (C00015) -- (R02737);
\draw[conn] (C00689) .. controls (1340,960) and (1260,1020) .. (R02737);
\draw[conn] (R02737) .. controls (1120,1130) and (1075,1165) .. (C00668);
\draw[conn] (R02737) -- (C00029);
\draw[conn] (C00029) .. controls (1450,1358) and (1530,1395) .. (R00286);
\draw[conn] (C00003a) -- (R00286);
\draw[conn] (C00001d) .. controls (1810,1350) and (1740,1400) .. (R00286);
\draw[conn] (R00286) .. controls (1510,1465) and (1450,1530) .. (C00080c);
\draw[conn] (R00286) -- (C00167);
\draw[conn] (R00286) .. controls (1730,1480) and (1800,1515) .. (C00004a);
\draw[conn] (C00167) .. controls (1760,1790) and (1890,1825) .. (R07658);
\draw[conn] (C00003b) -- (R07658);
\draw[conn] (R07658) .. controls (1925,1885) and (1865,1930) .. (C00011b);
\draw[conn] (R07658) .. controls (1990,1910) and (1965,1950) .. (C00080d);
\draw[conn] (R07658) -- (C00004b);
\draw[conn] (R07658) .. controls (2190,1870) and (2310,1905) .. (C16155);
% right pathway
\draw[conn] (C00011c) .. controls (2340,210) and (2385,260) .. (R05704);
\draw[conn] (Cnone1) -- (R05704);
\draw[conn] (C01326) -- (R05704);
\draw[conn] (C00011d) .. controls (2625,195) and (2660,250) .. (R03425);
\draw[conn] (C01242) -- (R03425);
\draw[conn] (C00010) -- (R00830);
\draw[conn] (C00011e) .. controls (3230,195) and (3200,240) .. (R00830);
\draw[conn] (C00430) .. controls (3335,225) and (3240,270) .. (R00830);
\draw[conn] (R05704) -- (Cnone2);
\draw[conn] (R05704) .. controls (2570,330) and (2650,385) .. (C00037);
\draw[conn] (R03425) -- (C00037);
\draw[conn] (R00830) .. controls (2930,330) and (2745,340) .. (C00037);
\draw[conn] (R03425) -- (C02051);
\draw[conn] (R00830) -- (C00091);
\draw[conn] (C00001f) -- (R00945);
\draw[conn] (C00037) -- (R00945);
\draw[conn] (C00143) .. controls (3542,1800) and (3552,1600) .. (3552,1300) .. controls (3552,1100) and (3581,950) .. (3581,850) .. controls (3581,725) and (3260,668) .. (R00945);
\draw[conn] (R00945) .. controls (2480,695) and (2365,730) .. (C00065);
\draw[conn] (R00945) -- (C00101);
\draw[conn] (C00283) -- (R00891);
\draw[conn] (C00065) -- (R00891);
\draw[conn] (C00101) -- (R00941);
\draw[conn] (C00080f) -- (R00941);
\draw[conn] (C00011f) -- (R00941);
\draw[conn] (C00005d) -- (R00941);
\draw[conn] (R00891) -- (C00097);
\draw[conn] (R00891) -- (C00001g);
\draw[conn] (R00941) -- (C00234);
\draw[conn] (R00941) -- (C00006d);
\draw[conn] (R00941) .. controls (3090,1105) and (3170,1150) .. (C00001h);
\draw[conn] (C00234) -- (R01655);
\draw[conn] (C00080g) .. controls (3275,1360) and (3180,1390) .. (R01655);
\draw[conn] (R01655) -- (C00445);
\draw[conn] (R01655) .. controls (3200,1445) and (3445,1470) .. (C00001e);
\draw[conn] (C00445) .. controls (2930,1790) and (3020,1825) .. (R01220);
\draw[conn] (C00005c) -- (R01220);
\draw[conn] (C00080e) .. controls (3365,1760) and (3260,1815) .. (R01220);
\draw[conn] (R01220) -- (C00006c);
\draw[conn] (R01220) .. controls (3250,1893) and (3320,1925) .. (C00143);
\end{tikzpicture}
\end{document}
